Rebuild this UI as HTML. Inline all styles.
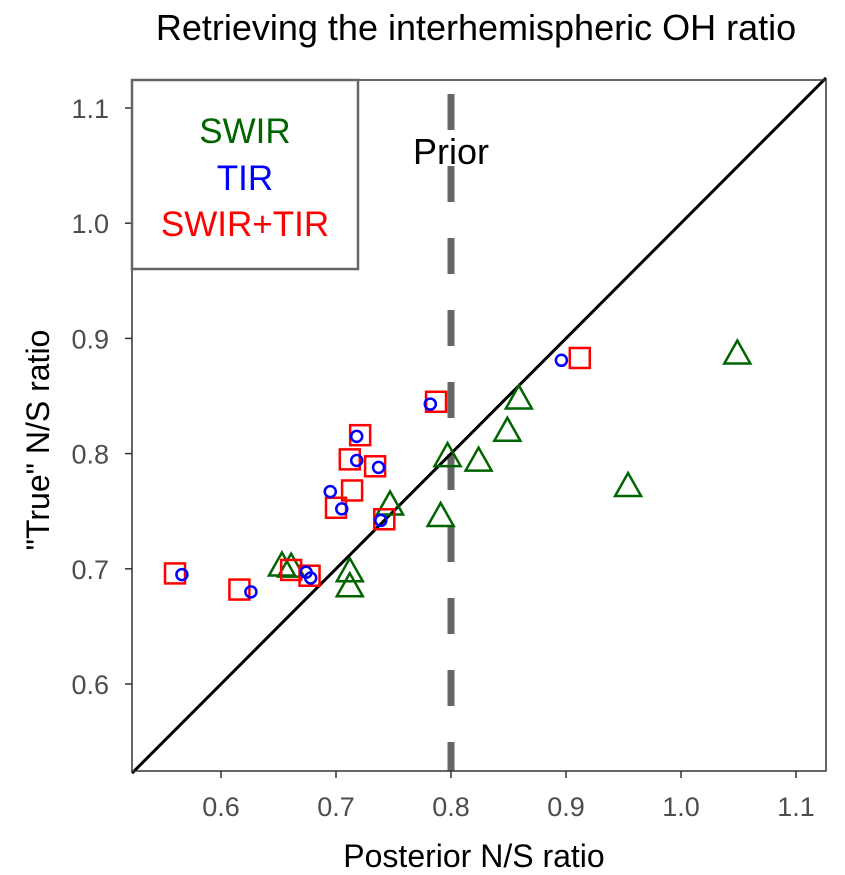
<!DOCTYPE html>
<html><head><meta charset="utf-8"><style>
body{margin:0;background:#fff}
svg{display:block;font-family:"Liberation Sans",Arial,sans-serif}
</style></head><body>
<svg id="chart" width="845" height="875" viewBox="0 0 845 875">
<text x="476" y="40" text-anchor="middle" font-size="36" fill="#000">Retrieving the interhemispheric OH ratio</text>
<g id="plot"></g>
</svg>
<script>
const xTicks=[0.6,0.7,0.8,0.9,1.0,1.1];
const yTicks=[0.6,0.7,0.8,0.9,1.0,1.1];
const xTickLabels=["0.6","0.7","0.8","0.9","1.0","1.1"];
const yTickLabels=["0.6","0.7","0.8","0.9","1.0","1.1"];
const swirX=[0.653,0.661,0.712,0.712,0.747,0.791,0.797,0.824,0.849,0.859,0.954,1.049];
const swirY=[0.702,0.701,0.697,0.684,0.755,0.745,0.797,0.793,0.819,0.847,0.771,0.886];
const tirX=[0.566,0.626,0.674,0.678,0.695,0.705,0.718,0.718,0.737,0.739,0.782,0.896];
const tirY=[0.695,0.680,0.697,0.692,0.767,0.752,0.794,0.815,0.788,0.742,0.843,0.881];
const bothX=[0.560,0.616,0.661,0.677,0.700,0.714,0.712,0.721,0.734,0.742,0.787,0.912];
const bothY=[0.696,0.682,0.699,0.694,0.753,0.768,0.795,0.816,0.789,0.743,0.845,0.883];
const priorValue=0.8;

const L=132,R=826,T=80,B=771;
const x0=0.5226,x1=1.1261,y0=0.5245,y1=1.1243;
const sx=v=>L+(v-x0)/(x1-x0)*(R-L);
const sy=v=>B-(v-y0)/(y1-y0)*(B-T);
const NS="http://www.w3.org/2000/svg";
const g=document.getElementById('plot');
function mk(tag,attrs,parent){const e=document.createElementNS(NS,tag);for(const k in attrs)e.setAttribute(k,attrs[k]);(parent||g).appendChild(e);return e;}

xTicks.forEach((v,i)=>{
  const t=mk('line',{x1:sx(v),x2:sx(v),y1:B,y2:B+7,stroke:'#333','stroke-width':1.5});
  
  
  const l=mk('text',{x:sx(v),y:B+45,'text-anchor':'middle','font-size':27,fill:'#4d4d4d'});
  l.textContent=xTickLabels[i];
  
  
});
yTicks.forEach((v,i)=>{
  const t=mk('line',{x1:L-7,x2:L,y1:sy(v),y2:sy(v),stroke:'#333','stroke-width':1.5});
  
  
  const l=mk('text',{x:L-23,y:sy(v)+10,'text-anchor':'end','font-size':27,fill:'#4d4d4d'});
  l.textContent=yTickLabels[i];
  
  
});
const pl=mk('line',{x1:sx(priorValue),x2:sx(priorValue),y1:T,y2:B,stroke:'#666','stroke-width':7,'stroke-dasharray':'36 36','stroke-dashoffset':58});


const pt=mk('text',{x:sx(priorValue),y:164,'text-anchor':'middle','font-size':36,fill:'#000'});
pt.textContent='Prior';


const d=mk('line',{x1:sx(x0),y1:sy(x0),x2:sx(x1),y2:sy(x1),stroke:'#000','stroke-width':3});


swirX.forEach((v,i)=>{
  const cx=sx(v),cy=sy(swirY[i]);
  const p=mk('polygon',{points:`${cx},${cy-14} ${cx-13},${cy+9} ${cx+13},${cy+9}`,fill:'none',stroke:'#006400','stroke-width':2.5});
  
  
});
bothX.forEach((v,i)=>{
  const cx=sx(v),cy=sy(bothY[i]);
  const p=mk('rect',{x:cx-10,y:cy-10,width:20,height:20,fill:'none',stroke:'#ff0000','stroke-width':2.5});
  
  
});
tirX.forEach((v,i)=>{
  const p=mk('circle',{cx:sx(v),cy:sy(tirY[i]),r:5.5,fill:'none',stroke:'#0000ff','stroke-width':2.5});
  
  
});
const fr=mk('rect',{x:L,y:T,width:R-L,height:B-T,fill:'none',stroke:'#333','stroke-width':1.5});


const lg=mk('g',{});


mk('rect',{x:L,y:T,width:226,height:189,fill:'#fff',stroke:'#666','stroke-width':2.5},lg);
[['SWIR','#006400',143],['TIR','#0000ff',190],['SWIR+TIR','#ff0000',236]].forEach(a=>{
  const t=mk('text',{x:245,y:a[2],'text-anchor':'middle','font-size':35,fill:a[1]},lg);
  t.textContent=a[0];
  
  
});
const xt=mk('text',{x:474,y:867,'text-anchor':'middle','font-size':32,fill:'#000'});
xt.textContent='Posterior N/S ratio';


const yt=mk('text',{x:0,y:0,'text-anchor':'middle','font-size':32,fill:'#000',transform:'translate(49,440) rotate(-90)'});
yt.textContent='"True" N/S ratio';


</script>
</body></html>
